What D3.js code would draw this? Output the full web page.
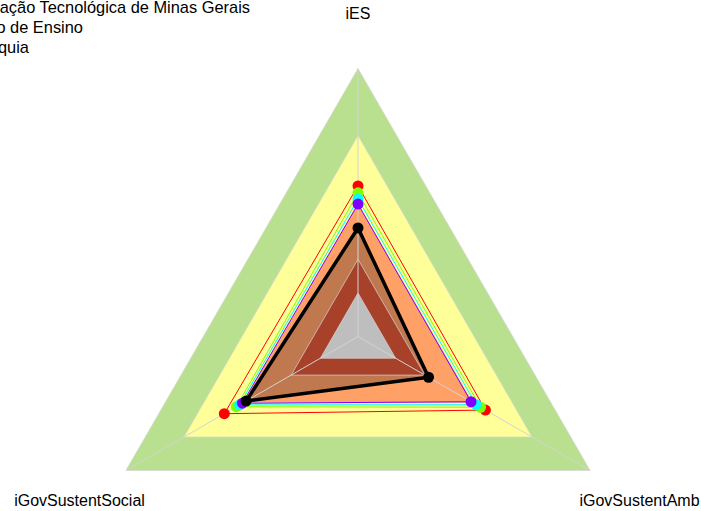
<!DOCTYPE html>
<html>
<head>
<meta charset="utf-8">
<script src="https://cdn.jsdelivr.net/npm/d3@7"></script>
<style>
  body { margin: 0; background: #fff; }
  text { font-family: "Liberation Sans", Arial, sans-serif; }
</style>
</head>
<body>
<svg width="701" height="511"></svg>
<script>
// axes, clockwise from the top
var axes = ["iES", "iGovSustentAmb", "iGovSustentSocial"];

// background bands (outer edge value) and their colours
var outerLevels = [1.0, 0.75, 0.495];
var outerColors = ["#b9e08f", "#ffff99", "#ffa066"];
var innerLevels = [0.288, 0.162];
var innerColors = ["#a8412a", "#bebebe"];

// series values, same order as axes
var redVals    = [0.562, 0.549, 0.576];
var greenVals  = [0.536, 0.528, 0.524];
var cyanVals   = [0.513, 0.509, 0.510];
var purpleVals = [0.494, 0.487, 0.498];
var blackVals  = [0.405, 0.304, 0.482];

var seriesVals   = [redVals, greenVals, cyanVals, purpleVals];
var seriesColors = ["#ff0000", "#80ff00", "#00ffff", "#8000ff"];

var legendLines = [
    "Centro Federal de Educação Tecnológica de Minas Gerais",
    "Instituição de Ensino",
    "Hierarquia"
];

var svg = d3.select("svg"),
    cx = 358,
    cy = 336.5,
    R = 268;

var r = d3.scaleLinear().domain([0, 1]).range([0, R]);
var angle = d3.scalePoint().domain(axes).range([0, 2 * Math.PI * 2 / 3]);

var g = svg.append("g").attr("transform", "translate(" + cx + "," + cy + ")");

var radial = d3.lineRadial()
    .angle(function(d, i) { return angle(axes[i]); })
    .radius(function(d) { return r(d); })
    .curve(d3.curveLinearClosed);

function pt(v, i) {
    var a = angle(axes[i]);
    return [Math.sin(a) * r(v), -Math.cos(a) * r(v)];
}

function band(level, color) {
    g.append("path")
        .attr("d", radial(axes.map(function() { return level; })))
        .attr("fill", color)
        .attr("stroke", "#d6d6d6")
        .attr("stroke-opacity", 0.7)
        .attr("stroke-width", 1);
}

outerLevels.forEach(function(l, i) { band(l, outerColors[i]); });

// fill under the black series
g.append("path")
    .attr("d", radial(blackVals))
    .attr("fill", "#c0794f");

innerLevels.forEach(function(l, i) { band(l, innerColors[i]); });

// spokes
g.selectAll("line.spoke")
    .data(axes)
    .enter().append("line")
    .attr("class", "spoke")
    .attr("x1", 0).attr("y1", 0)
    .attr("x2", function(d, i) { return pt(1, i)[0]; })
    .attr("y2", function(d, i) { return pt(1, i)[1]; })
    .attr("stroke", "#d3d3d3")
    .attr("stroke-width", 1);

// coloured series
seriesVals.forEach(function(vals, k) {
    g.append("path")
        .attr("d", radial(vals))
        .attr("fill", "none")
        .attr("stroke", seriesColors[k])
        .attr("stroke-width", 1);
});
seriesVals.forEach(function(vals, k) {
    g.selectAll(null)
        .data(vals)
        .enter().append("circle")
        .attr("cx", function(d, i) { return pt(d, i)[0]; })
        .attr("cy", function(d, i) { return pt(d, i)[1]; })
        .attr("r", 5.5)
        .attr("fill", seriesColors[k]);
});

// black series
g.append("path")
    .attr("d", radial(blackVals))
    .attr("fill", "none")
    .attr("stroke", "#000")
    .attr("stroke-width", 3.5)
    .attr("stroke-linejoin", "round");
g.selectAll(null)
    .data(blackVals)
    .enter().append("circle")
    .attr("cx", function(d, i) { return pt(d, i)[0]; })
    .attr("cy", function(d, i) { return pt(d, i)[1]; })
    .attr("r", 5.5)
    .attr("fill", "#000");

// axis labels
var labelShift = [[0, 0], [3, 4], [0, 4]];
g.selectAll("text.axis")
    .data(axes)
    .enter().append("text")
    .attr("class", "axis")
    .attr("x", function(d, i) { return pt(1.2, i)[0] + labelShift[i][0]; })
    .attr("y", function(d, i) { return pt(1.2, i)[1] + labelShift[i][1]; })
    .attr("text-anchor", "middle")
    .attr("dominant-baseline", "middle")
    .style("font-size", "16px")
    .text(function(d) { return d; });

// legend text (runs off the left edge)
var legendEnds = [250, 83, 29];
svg.selectAll("text.legend")
    .data(legendLines)
    .enter().append("text")
    .attr("class", "legend")
    .attr("x", function(d, i) { return legendEnds[i]; })
    .attr("y", function(d, i) { return 13 + i * 20; })
    .attr("text-anchor", "end")
    .style("font-size", "16.4px")
    .text(function(d) { return d; });
</script>
</body>
</html>
